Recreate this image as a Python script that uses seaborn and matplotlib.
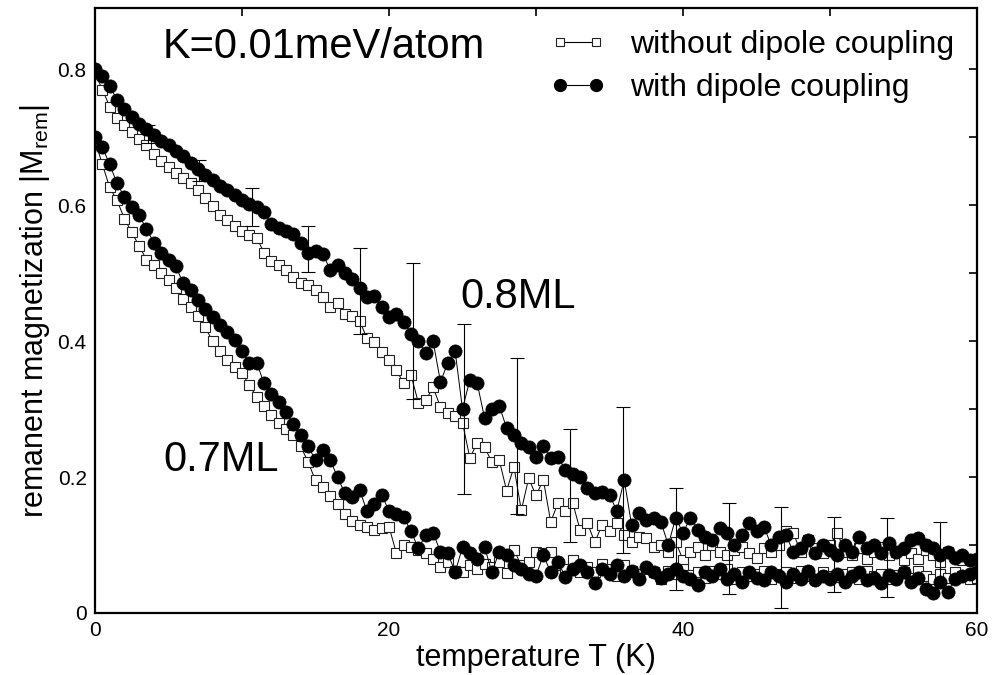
import numpy as np
import matplotlib
matplotlib.use("Agg")
import matplotlib.pyplot as plt
import seaborn as sns
import pandas as pd
from matplotlib.lines import Line2D

# ---------------- data ----------------
temperature = np.arange(0, 60.25, 0.5)

m08_dipole = [
    0.800, 0.790, 0.775, 0.755, 0.742, 0.730, 0.720, 0.712, 0.703, 0.695,
    0.688, 0.680, 0.673, 0.662, 0.653, 0.645, 0.637, 0.628, 0.622, 0.615,
    0.608, 0.602, 0.597, 0.590, 0.572, 0.566, 0.562, 0.557, 0.545, 0.530,
    0.532, 0.528, 0.505, 0.512, 0.500, 0.492, 0.478, 0.465, 0.466, 0.450,
    0.436, 0.440, 0.428, 0.410, 0.400, 0.382, 0.400, 0.340, 0.368, 0.385,
    0.300, 0.343, 0.338, 0.287, 0.300, 0.305, 0.272, 0.262, 0.250, 0.244,
    0.230, 0.245, 0.228, 0.230, 0.210, 0.205, 0.200, 0.184, 0.176, 0.178,
    0.174, 0.150, 0.196, 0.130, 0.147, 0.137, 0.140, 0.134, 0.100, 0.140,
    0.118, 0.140, 0.122, 0.112, 0.107, 0.125, 0.118, 0.100, 0.115, 0.132,
    0.120, 0.127, 0.100, 0.112, 0.115, 0.090, 0.095, 0.108, 0.088, 0.100,
    0.093, 0.085, 0.100, 0.090, 0.112, 0.095, 0.100, 0.088, 0.103, 0.090,
    0.095, 0.107, 0.110, 0.100, 0.096, 0.085, 0.090, 0.081, 0.085, 0.078,
    0.080,
]

m08_plain = [
    0.795, 0.770, 0.745, 0.728, 0.718, 0.708, 0.698, 0.688, 0.675, 0.665,
    0.656, 0.648, 0.640, 0.632, 0.622, 0.610, 0.598, 0.586, 0.578, 0.570,
    0.562, 0.556, 0.552, 0.530, 0.518, 0.512, 0.505, 0.494, 0.486, 0.482,
    0.475, 0.465, 0.450, 0.456, 0.440, 0.437, 0.430, 0.404, 0.398, 0.384,
    0.372, 0.357, 0.338, 0.350, 0.309, 0.313, 0.332, 0.303, 0.294, 0.290,
    0.280, 0.228, 0.250, 0.244, 0.222, 0.225, 0.180, 0.215, 0.151, 0.198,
    0.173, 0.196, 0.134, 0.162, 0.150, 0.162, 0.122, 0.132, 0.104, 0.130,
    0.120, 0.132, 0.115, 0.104, 0.112, 0.110, 0.097, 0.100, 0.090, 0.105,
    0.078, 0.090, 0.097, 0.085, 0.100, 0.090, 0.085, 0.093, 0.097, 0.088,
    0.081, 0.095, 0.090, 0.100, 0.120, 0.118, 0.090, 0.107, 0.095, 0.088,
    0.100, 0.118, 0.090, 0.085, 0.095, 0.080, 0.090, 0.097, 0.085, 0.090,
    0.078, 0.088, 0.080, 0.092, 0.085, 0.075, 0.090, 0.082, 0.078, 0.080,
    0.075,
]

m07_dipole = [
    0.700, 0.685, 0.660, 0.632, 0.612, 0.597, 0.585, 0.565, 0.545, 0.530,
    0.520, 0.510, 0.485, 0.475, 0.460, 0.447, 0.435, 0.424, 0.413, 0.402,
    0.385, 0.368, 0.368, 0.338, 0.322, 0.310, 0.295, 0.278, 0.262, 0.245,
    0.225, 0.240, 0.225, 0.200, 0.176, 0.170, 0.181, 0.150, 0.160, 0.174,
    0.150, 0.145, 0.141, 0.120, 0.095, 0.115, 0.118, 0.090, 0.088, 0.060,
    0.097, 0.088, 0.080, 0.097, 0.060, 0.090, 0.085, 0.070, 0.065, 0.058,
    0.055, 0.085, 0.060, 0.075, 0.053, 0.065, 0.070, 0.060, 0.044, 0.065,
    0.058, 0.070, 0.055, 0.062, 0.050, 0.068, 0.060, 0.052, 0.058, 0.065,
    0.055, 0.050, 0.041, 0.060, 0.055, 0.065, 0.050, 0.058, 0.045, 0.060,
    0.052, 0.048, 0.060, 0.055, 0.045, 0.058, 0.050, 0.062, 0.048, 0.055,
    0.050, 0.058, 0.045, 0.055, 0.060, 0.048, 0.052, 0.044, 0.056, 0.050,
    0.060, 0.045, 0.052, 0.035, 0.029, 0.045, 0.031, 0.050, 0.055, 0.058,
    0.060,
]

m07_plain = [
    0.695, 0.660, 0.626, 0.607, 0.580, 0.560, 0.540, 0.520, 0.512, 0.500,
    0.490, 0.478, 0.462, 0.450, 0.437, 0.420, 0.400, 0.385, 0.372, 0.362,
    0.353, 0.335, 0.318, 0.305, 0.292, 0.280, 0.270, 0.262, 0.245, 0.222,
    0.195, 0.185, 0.172, 0.160, 0.145, 0.135, 0.130, 0.127, 0.122, 0.125,
    0.127, 0.088, 0.100, 0.097, 0.092, 0.088, 0.080, 0.068, 0.075, 0.062,
    0.060, 0.070, 0.065, 0.072, 0.068, 0.075, 0.059, 0.093, 0.070, 0.075,
    0.090, 0.088, 0.090, 0.070, 0.065, 0.078, 0.060, 0.068, 0.060, 0.072,
    0.065, 0.055, 0.070, 0.062, 0.058, 0.065, 0.060, 0.050, 0.062, 0.058,
    0.065, 0.056, 0.060, 0.052, 0.062, 0.058, 0.065, 0.050, 0.060, 0.055,
    0.058, 0.062, 0.050, 0.058, 0.060, 0.052, 0.062, 0.055, 0.050, 0.060,
    0.055, 0.053, 0.058, 0.060, 0.050, 0.062, 0.055, 0.058, 0.050, 0.056,
    0.060, 0.052, 0.062, 0.055, 0.050, 0.058, 0.052, 0.060, 0.055, 0.050,
    0.052,
]

# error bars on the 0.8 ML dipole-coupled curve
err_T = [3.6, 7.1, 10.7, 14.5, 18.0, 21.6, 25.1, 28.7, 32.3, 35.9, 39.5, 43.1, 46.7, 50.3, 53.9, 57.5]
err_M = [0.705, 0.651, 0.597, 0.535, 0.474, 0.415, 0.300, 0.260, 0.187, 0.196, 0.109, 0.095, 0.082, 0.086, 0.082, 0.086]
err_E = [0.013, 0.015, 0.028, 0.034, 0.063, 0.100, 0.125, 0.115, 0.083, 0.107, 0.075, 0.067, 0.074, 0.055, 0.058, 0.048]

legend_labels = ["without dipole coupling", "with dipole coupling"]
x_ticklabels = ["0", "20", "40", "60"]
y_ticklabels = ["0", "0.2", "0.4", "0.6", "0.8"]

# ---------------- style ----------------
sns.set_theme(style="white")
plt.rcParams["font.family"] = ["Liberation Sans", "DejaVu Sans"]
plt.rcParams["mathtext.fontset"] = "custom"
plt.rcParams["mathtext.rm"] = "Liberation Sans"
plt.rcParams["mathtext.it"] = "Liberation Sans"
plt.rcParams["text.color"] = "black"
plt.rcParams["axes.labelcolor"] = "black"
plt.rcParams["xtick.color"] = "black"
plt.rcParams["ytick.color"] = "black"

fig = plt.figure(figsize=(9.92, 6.75), dpi=100)
ax = fig.add_axes([95 / 992, 1 - 613 / 675, (977 - 95) / 992, (613 - 8) / 675])

df = pd.DataFrame({
    "T": temperature,
    "m08d": m08_dipole, "m08p": m08_plain,
    "m07d": m07_dipole, "m07p": m07_plain,
})

sq_kw = dict(marker="s", markersize=6.5, markerfacecolor="white",
             markeredgecolor="#222222", markeredgewidth=0.8,
             color="black", linewidth=0.7)
ci_kw = dict(marker="o", markersize=9.5, markerfacecolor="black",
             markeredgecolor="black", markeredgewidth=0.5,
             color="black", linewidth=0.7)

sns.lineplot(data=df, x="T", y="m08p", ax=ax, zorder=2, **sq_kw)
sns.lineplot(data=df, x="T", y="m07p", ax=ax, zorder=2, **sq_kw)
ax.errorbar(err_T, err_M, yerr=err_E, fmt="none", ecolor="black",
            elinewidth=0.8, capsize=5, capthick=0.8, zorder=2.5)
sns.lineplot(data=df, x="T", y="m07d", ax=ax, zorder=3, **ci_kw)
sns.lineplot(data=df, x="T", y="m08d", ax=ax, zorder=3, **ci_kw)

ax.set_xlim(0, 60)
ax.set_ylim(0, 0.89)
ax.set_xticks([0, 20, 40, 60])
ax.set_xticklabels(x_ticklabels)
ax.set_xticks([10, 30, 50], minor=True)
ax.set_yticks([0, 0.2, 0.4, 0.6, 0.8])
ax.set_yticklabels(y_ticklabels)
ax.set_yticks([0.1, 0.3, 0.5, 0.7], minor=True)
ax.tick_params(which="both", direction="in", top=True, right=True,
               length=6, width=1.2, color="black", labelsize=15, pad=6)
for s in ax.spines.values():
    s.set_linewidth(1.6)
    s.set_color("black")

ax.set_xlabel("temperature T (K)", fontsize=22, labelpad=2)
ax.set_ylabel(r"remanent magnetization |M$_{\rm rem}$|", fontsize=22, labelpad=4)

ax.text(4.6, 0.832, "K=0.01meV/atom", fontsize=30, ha="left", va="center")
ax.text(28.8, 0.465, "0.8ML", fontsize=30, ha="center", va="center")
ax.text(8.6, 0.225, "0.7ML", fontsize=30, ha="center", va="center")

h1 = Line2D([], [], marker="s", markersize=5.5, markerfacecolor="white",
            markeredgecolor="#222222", markeredgewidth=0.8, color="black", linewidth=0.8)
h2 = Line2D([], [], marker="o", markersize=8.5, markerfacecolor="black",
            markeredgecolor="black", color="black", linewidth=0.8)
ax.legend([h1, h2], legend_labels, loc="upper left",
          bbox_to_anchor=((550 - 95) / 882, (613 - 30) / 605),
          frameon=False, fontsize=23, numpoints=2, handlelength=1.75,
          handletextpad=0.75, labelspacing=0.42, borderpad=0, borderaxespad=0)

fig.savefig("out.png", dpi=100)
